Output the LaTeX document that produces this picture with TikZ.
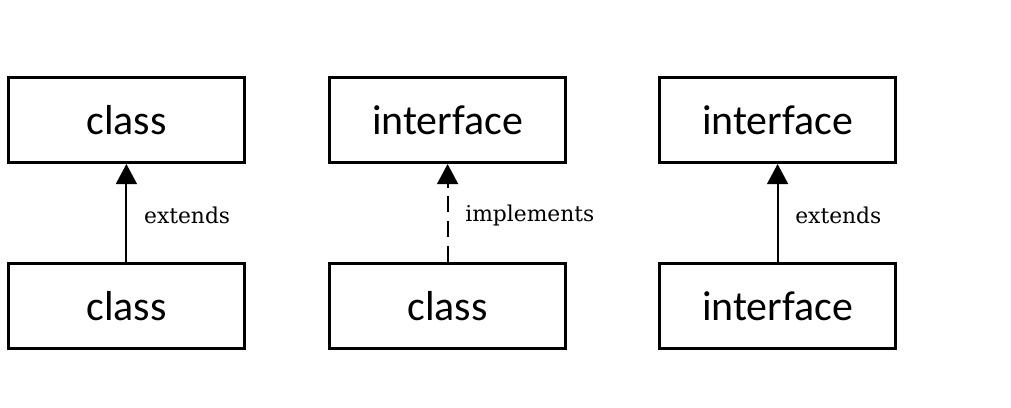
\documentclass[tikz,border=0pt]{standalone}
\usepackage{fontspec}
\setmainfont{DejaVu Serif}
\newfontfamily\boxfont{Carlito}
\usetikzlibrary{positioning,arrows.meta}

\begin{document}
\begin{tikzpicture}[
    box/.style={draw, line width=2pt, minimum width=5.9cm, minimum height=2.13cm,
      inner sep=0pt, font=\boxfont\fontsize{29.8}{32}\selectfont},
    rel/.style={line width=1.5pt, -{Triangle[width=0.52cm,length=0.5cm]}},
    lbl/.style={anchor=west, xshift=0.3cm, yshift=-0.05cm, font=\fontsize{15.5}{17}\selectfont},
    node distance=2.45cm
  ]
  \useasboundingbox (0,0) rectangle (25.275,-10.175);
  \coordinate (p1) at (3.16, -3.0);
  \coordinate (p2) at (11.19, -3.0);
  \coordinate (p3) at (19.44, -3.0);
  \node[box] (sup1) at (p1) {class};
  \node[box] (sup2) at (p2) {interface};
  \node[box] (sup3) at (p3) {interface};
  \node[box, below=of sup1] (sub1) {class};
  \node[box, below=of sup2] (sub2) {class};
  \node[box, below=of sup3] (sub3) {interface};
  \draw[rel] (sub1) -- node[lbl] {extends} (sup1);
  \draw[rel, dash pattern=on 0.4cm off 0.22cm] (sub2) -- node[lbl] {implements} (sup2);
  \draw[rel] (sub3) -- node[lbl] {extends} (sup3);
\end{tikzpicture}
\end{document}
